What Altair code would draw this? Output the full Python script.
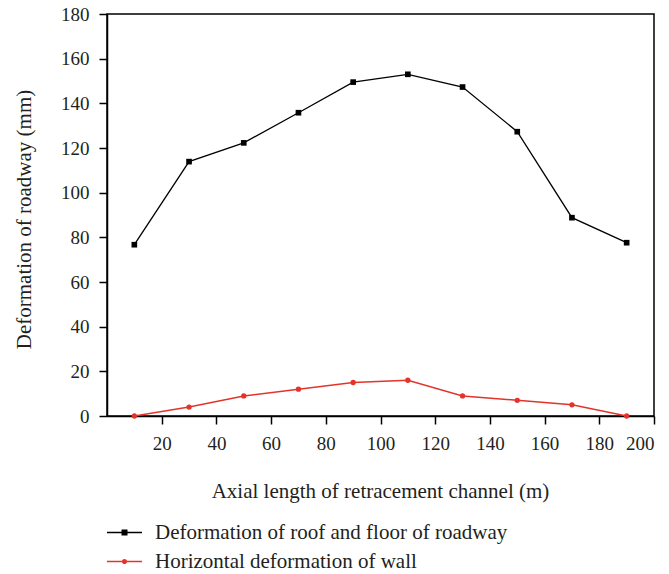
import altair as alt
import pandas as pd

# ---- data ----
x_vals = [10, 30, 50, 70, 90, 110, 130, 150, 170, 190]
roof_floor = [76.7, 113.9, 122.3, 135.8, 149.5, 153.0, 147.3, 127.3, 88.8, 77.6]
wall = [0, 4, 9, 12, 15, 16, 9, 7, 5, 0]
series_names = ["Deformation of roof and floor of roadway", "Horizontal deformation of wall"]
series_colors = ["#000000", "#e3342b"]
x_ticks = [20, 40, 60, 80, 100, 120, 140, 160, 180, 200]
y_ticks = [0, 20, 40, 60, 80, 100, 120, 140, 160, 180]

df = pd.DataFrame({
    "x": x_vals * 2,
    "y": roof_floor + wall,
    "series": [series_names[0]] * len(x_vals) + [series_names[1]] * len(x_vals),
})

FONT = "Liberation Serif"

x_enc = alt.X("x:Q", scale=alt.Scale(domain=[0, 200], nice=False, zero=False),
              axis=alt.Axis(values=x_ticks, title="Axial length of retracement channel (m)",
                            titleX=273, titleY=81, titleBaseline="alphabetic",
                            labelPadding=10, tickSize=8))
y_enc = alt.Y("y:Q", scale=alt.Scale(domain=[0, 180], nice=False),
              axis=alt.Axis(values=y_ticks, title="Deformation of roadway (mm)",
                            titleX=-77, titleY=205, titleBaseline="alphabetic",
                            labelPadding=10, tickSize=8))

base = alt.Chart(df)

s1 = base.transform_filter(alt.datum.series == series_names[0])
s2 = base.transform_filter(alt.datum.series == series_names[1])

line1 = s1.mark_line(color=series_colors[0], strokeWidth=1.3).encode(x=x_enc, y=y_enc)
pts1 = s1.mark_point(shape="square", filled=True, opacity=1, size=32,
                     color=series_colors[0]).encode(x=x_enc, y=y_enc)
line2 = s2.mark_line(color=series_colors[1], strokeWidth=1.5).encode(x=x_enc, y=y_enc)
pts2 = s2.mark_point(shape="circle", filled=True, opacity=1, size=28,
                     color=series_colors[1]).encode(x=x_enc, y=y_enc)

# legend-only layer (no marks drawn) with line+marker symbols
sym_square = "M-1.75,-0.07H1.75V0.07H-1.75Z M-0.3,-0.3H0.3V0.3H-0.3Z"
sym_circle = ("M-1.75,-0.07H1.75V0.07H-1.75Z "
              "M0.26,0 A0.26,0.26 0 1 1 -0.26,0 A0.26,0.26 0 1 1 0.26,0 Z")
leg_props = dict(title=None, orient="none", legendX=7, legendY=508, padding=0,
                 symbolSize=400, symbolStrokeWidth=0, labelOffset=20, rowPadding=7,
                 labelFont=FONT, labelFontSize=21, labelColor="#231f20", labelLimit=600)
legend_layer = base.transform_filter("false").mark_point(filled=True, opacity=1).encode(
    x=x_enc, y=y_enc,
    color=alt.Color("series:N", scale=alt.Scale(domain=series_names, range=series_colors),
                    legend=alt.Legend(**leg_props)),
    shape=alt.Shape("series:N", scale=alt.Scale(domain=series_names, range=[sym_square, sym_circle]),
                    legend=alt.Legend(**leg_props)),
)

chart = alt.layer(line1, line2, pts1, pts2, legend_layer).properties(
    width=547, height=402,
    autosize=alt.AutoSizeParams(type="none"),
    padding={"left": 107, "top": 14, "right": 15, "bottom": 158},
).configure_view(
    stroke="#000000", strokeWidth=1.5
).configure_axis(
    grid=False, domainColor="#000000", domainWidth=1.5, tickColor="#000000", tickWidth=1.5,
    labelFont=FONT, labelFontSize=19, labelColor="#231f20",
    titleFont=FONT, titleFontSize=21, titleFontWeight="normal", titleColor="#231f20",
)

chart.save("out.html", embed_options={"renderer": "svg", "actions": False})
